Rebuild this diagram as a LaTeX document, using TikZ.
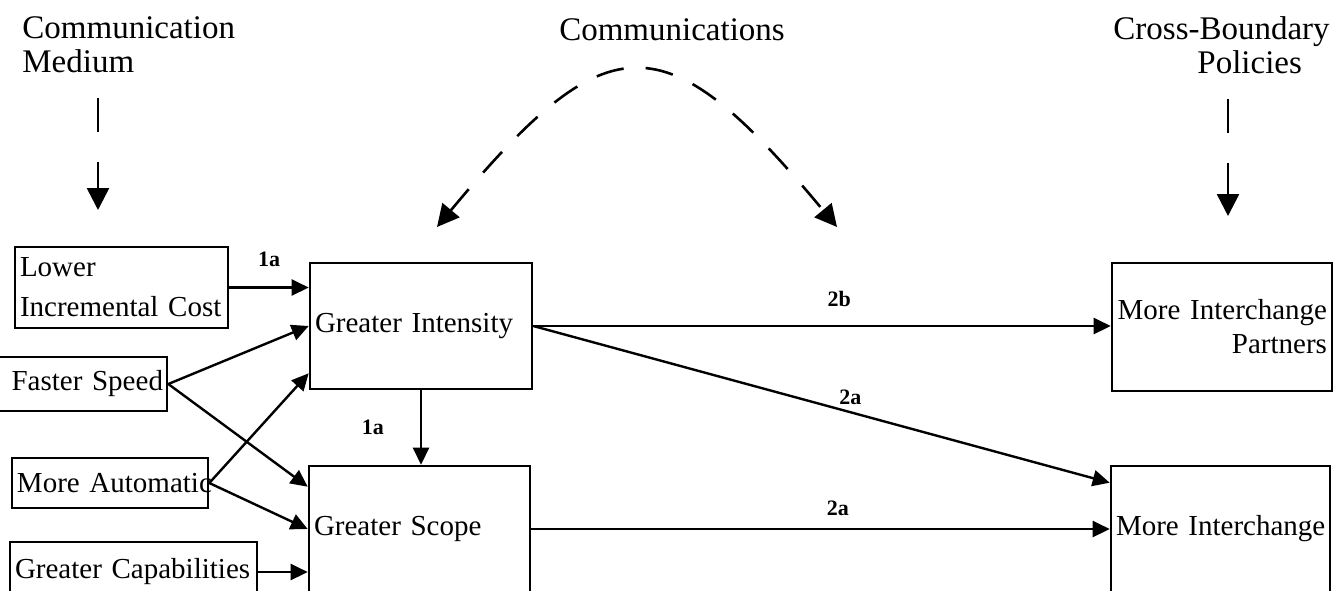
\documentclass[tikz,border=0pt]{standalone}
\usepackage{fontspec}
\setmainfont{Liberation Serif}
\usetikzlibrary{positioning, arrows.meta, calc}

\newcommand{\boxfont}{\fontsize{14.5}{17}\selectfont}
\newcommand{\headfont}{\fontsize{16.5}{17}\selectfont}
\newcommand{\tagfont}{\fontsize{11}{13}\selectfont\bfseries}

\begin{document}
\begin{tikzpicture}[x=0.5pt, y=-0.5pt, >={Triangle[length=8.5pt, width=8pt]},
    box/.style={draw, line width=1.3pt, inner xsep=2.5pt, inner ysep=0pt, font=\boxfont},
    head/.style={font=\headfont, inner sep=0pt},
    link/.style={->, line width=1.2pt},
    tag/.style={font=\tagfont, inner sep=1pt},
    influence/.style={-{Triangle[length=11pt, width=11pt]}, line width=1.3pt, dash pattern=on 17pt off 15pt},
    comm/.style={{Triangle[length=11pt, width=11pt]}-{Triangle[length=11pt, width=11pt]}, line width=1.3pt, dash pattern=on 14pt off 11pt}]
    \useasboundingbox (0,0) rectangle (1336,590);

    % headings
    \node[head, anchor=north west, align=left] (medium) at (22,16) {Communication\\Medium};
    \node[head] (comms) at (672,30) {Communications};
    \node[head, anchor=north west, align=left] (policies) at (1113,16) {Cross-Boundary\\\hspace*{42pt}Policies};

    % left column
    \node[box, minimum width=106.5pt, minimum height=40.5pt, text width=101.5pt, align=left] (cost) at (121.5,287.5) {Lower\\[3pt]\mbox{Incremental Cost}};
    \node[box, minimum width=85.5pt, minimum height=27pt, text width=81.5pt, align=right, inner xsep=2pt] (speed) at (81.5,384) {\mbox{Faster Speed}};
    \node[box, minimum width=98pt, minimum height=25pt, text width=93pt, align=left] (auto) at (110,483) {\mbox{More Automatic}};
    \node[box, minimum width=123.5pt, minimum height=30pt, text width=118.5pt, align=left] (capab) at (133.5,572) {\mbox{Greater Capabilities}};

    % middle column
    \node[box, minimum width=111pt, minimum height=63pt, text width=106pt, align=left] (intensity) at (421,326) {\mbox{Greater Intensity}};
    \node[box, minimum width=110.5pt, minimum height=63pt, text width=105.5pt, align=left] (scope) at (419.5,529) {\mbox{Greater Scope}};

    % right column
    \node[box, minimum width=110pt, minimum height=64pt, text width=105pt, align=right] (partners) at (1222,327) {\mbox{More Interchange}\\Partners\hspace*{6pt}};
    \node[box, minimum width=109.5pt, minimum height=63pt, text width=104.5pt, align=left] (interchange) at (1220.5,529) {\mbox{More Interchange}};

    % medium and policies
    \coordinate (mediumtip) at (98,210);
    \coordinate (policytip) at (1228,216);
    \draw[influence, shorten <=12.5pt] (medium.south -| mediumtip) -- (mediumtip);
    \draw[influence, shorten <=12.5pt] (policies.south -| policytip) -- (policytip);

    % communications
    \coordinate (ltip) at (437,227);
    \coordinate (rtip) at (837,227);
    \draw[comm] (ltip) .. controls (609,20) and (665,20) .. (rtip);

    \draw[link] (cost) -- (cost -| intensity.west) node[tag, midway, above=9pt] {1a};
    \draw[link] (speed.east) -- (intensity.west);
    \draw[link] (speed.east) -- ([yshift=-11pt]scope.north west);
    \draw[link] (auto.east) -- ([yshift=8.5pt]intensity.south west);
    \draw[link] (auto.east) -- (scope.west);
    \draw[link] (capab) -- (capab -| scope.west);
    \draw[link] (intensity) -- (intensity |- scope.north) node[tag, midway, left=17pt] {1a};

    \draw[link] (intensity) -- (intensity -| partners.west) node[tag, pos=0.53, above=8pt] {2b};
    \draw[link] (intensity.east) -- ([yshift=-9pt]interchange.north west) node[tag, pos=0.55, above=2pt] {2a};
    \draw[link] (scope) -- (scope -| interchange.west) node[tag, pos=0.53, above=5pt] {2a};
\end{tikzpicture}
\end{document}
